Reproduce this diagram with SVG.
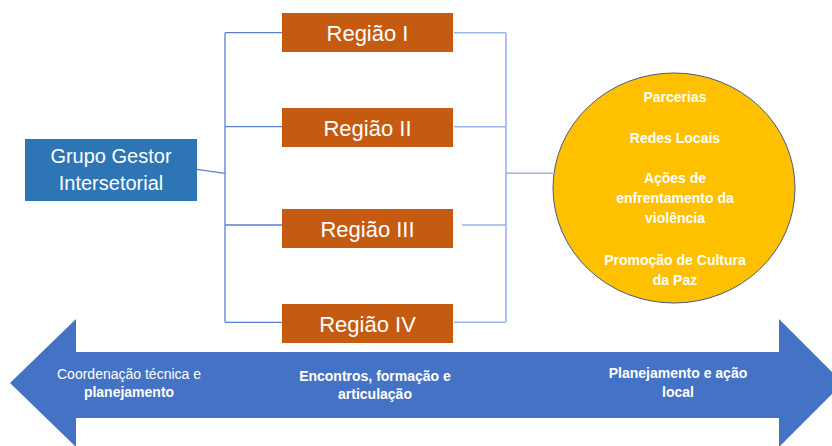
<svg xmlns="http://www.w3.org/2000/svg" width="832" height="446" viewBox="0 0 832 446">
<style>
.reg{fill:#C55A11}
.regt{font-family:"Liberation Sans",Arial,sans-serif;font-size:22px;fill:#fff;text-anchor:middle}
.gt{font-family:"Liberation Sans",Arial,sans-serif;font-size:20px;fill:#fff;text-anchor:middle}
.ct{font-family:"Liberation Sans",Arial,sans-serif;font-size:14px;font-weight:bold;fill:#fff;text-anchor:middle}
.at{font-family:"Liberation Sans",Arial,sans-serif;font-size:14px;fill:#fff;text-anchor:middle}
.b{font-weight:bold}
.cl{stroke:#5B80CC;stroke-width:1.3;fill:none}
.cr{stroke:#9DB4E6;stroke-width:1.6;fill:none}
</style>
<rect width="832" height="446" fill="#fff"/>
<g id="arrow">
<polygon points="10,383 76,319 76,352 779,352 779,319 843,383 779,447 779,418 76,418 76,447" fill="#4472C4"/>
<text class="at" x="129" y="379">Coordenação técnica e</text>
<text class="at b" x="129" y="397">planejamento</text>
<text class="at b" x="375" y="381">Encontros, formação e</text>
<text class="at b" x="375" y="399">articulação</text>
<text class="at b" x="678" y="378">Planejamento e ação</text>
<text class="at b" x="678" y="397">local</text>
</g>
<g id="connectors">
<path class="cl" d="M197,169.3 L225,173.3 M225,32.7 V322.3 M225,32.7 H282 M225,126.7 H282 M225,225 H282 M225,322.3 H282"/>
<path class="cr" d="M506,32.7 V322.3 M454,32.7 H506 M454,126.7 H506 M462,225 H506 M454,322.3 H506 M506,173.3 H553"/>
</g>
<g id="grupo">
<rect x="25" y="139" width="172" height="62" fill="#2E75B6"/>
<text class="gt" x="111" y="163">Grupo Gestor</text>
<text class="gt" x="111" y="190">Intersetorial</text>
</g>
<g id="regiao1"><rect class="reg" x="282" y="13" width="171" height="39"/><text class="regt" x="367.5" y="41">Região I</text></g>
<g id="regiao2"><rect class="reg" x="282" y="108" width="171" height="39"/><text class="regt" x="367.5" y="136">Região II</text></g>
<g id="regiao3"><rect class="reg" x="282" y="209" width="171" height="39"/><text class="regt" x="367.5" y="237">Região III</text></g>
<g id="regiao4"><rect class="reg" x="282" y="304" width="171" height="39"/><text class="regt" x="367.5" y="332">Região IV</text></g>
<g id="circulo">
<ellipse cx="674" cy="188" rx="121" ry="115" fill="#FFC000" stroke="#4A5A7A" stroke-width="1"/>
<text class="ct" x="675" y="101.5">Parcerias</text>
<text class="ct" x="675" y="143">Redes Locais</text>
<text class="ct" x="675" y="183">Ações de</text>
<text class="ct" x="675" y="203">enfrentamento da</text>
<text class="ct" x="675" y="223">violência</text>
<text class="ct" x="675" y="265">Promoção de Cultura</text>
<text class="ct" x="675" y="285">da Paz</text>
</g>
</svg>
